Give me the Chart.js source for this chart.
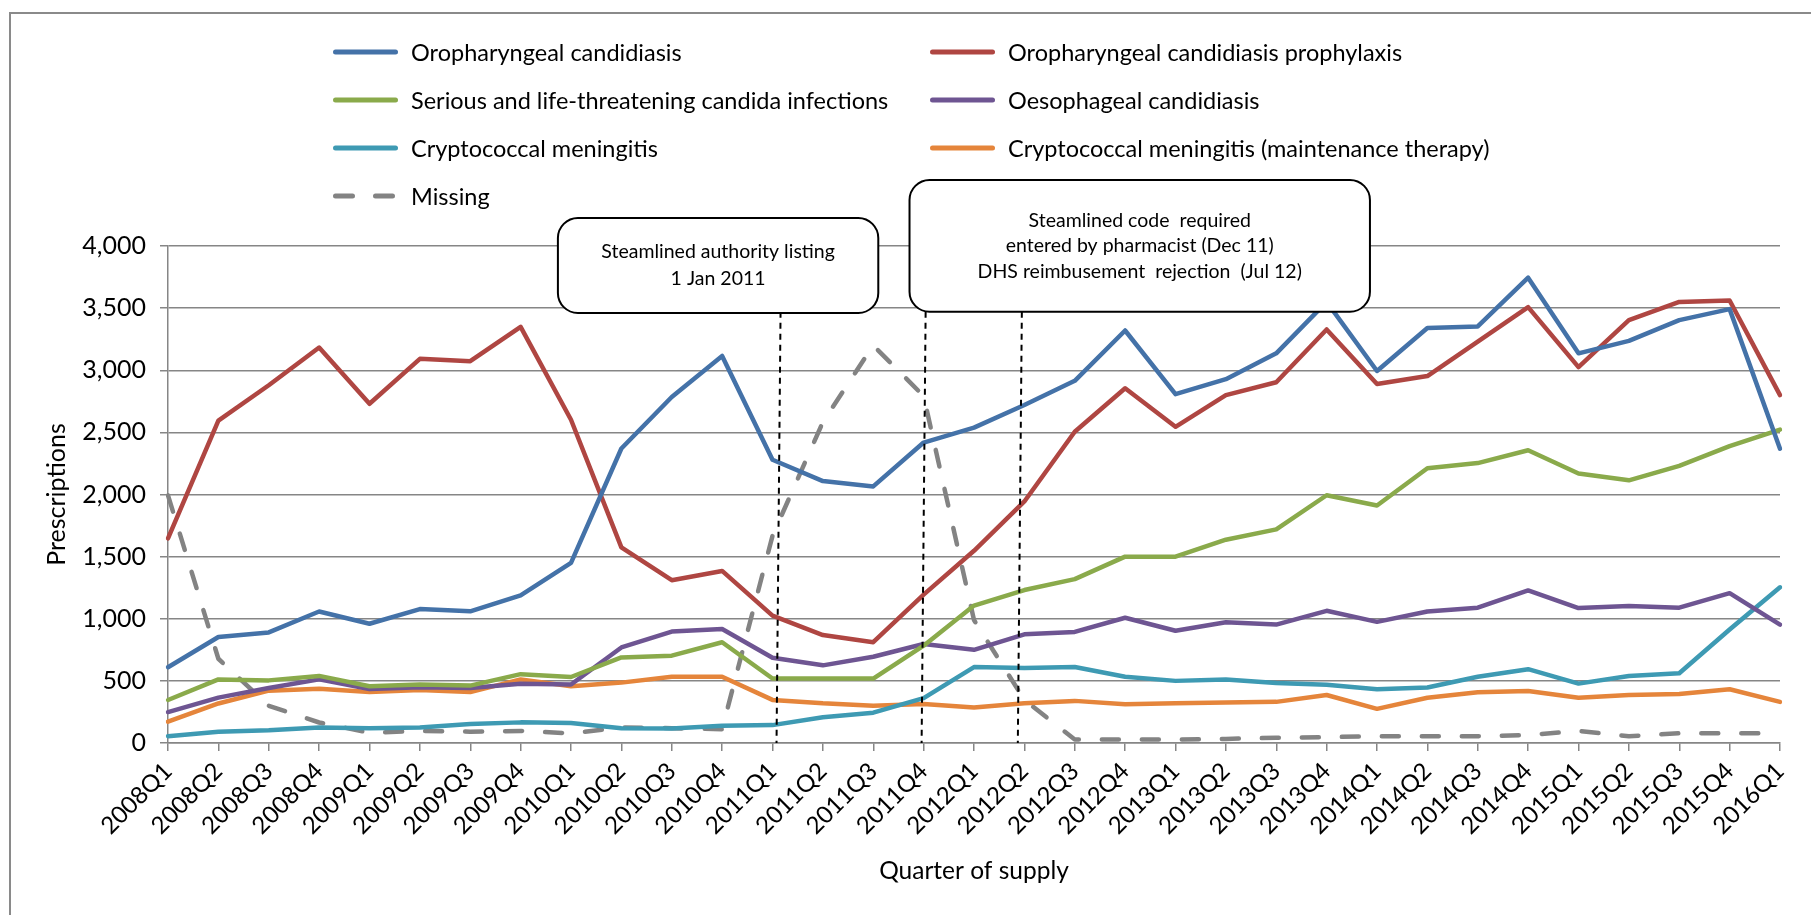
<!DOCTYPE html>
<html>
<head>
<meta charset="utf-8">
<script src="https://cdn.jsdelivr.net/npm/chart.js@4.4.1/dist/chart.umd.min.js"></script>
<style>
  body { margin: 0; background: #fff; font-family: Lato, sans-serif; }
  #wrap { position: relative; width: 1811px; height: 915px; overflow: hidden; }
  #frame { position: absolute; left: 9px; top: 12px; width: 1830px; height: 930px; border: 2px solid #8a8a8a; }
  #chart { position: absolute; left: 0; top: 0; }
  .leg { position: absolute; display: flex; align-items: center; height: 30px; font-size: 23.5px; color: #000; white-space: nowrap; }
  .leg svg { margin-right: 10px; }
</style>
</head>
<body>
<div id="wrap">
  <div id="frame"></div>
  <canvas id="chart" width="1811" height="915"></canvas>
  <div id="legend"></div>
</div>
<script>
// categorias (trimestres)
const quarters = [
    "2008Q1", "2008Q2", "2008Q3", "2008Q4", "2009Q1", "2009Q2", "2009Q3", "2009Q4",
    "2010Q1", "2010Q2", "2010Q3", "2010Q4", "2011Q1", "2011Q2", "2011Q3", "2011Q4",
    "2012Q1", "2012Q2", "2012Q3", "2012Q4", "2013Q1", "2013Q2", "2013Q3", "2013Q4",
    "2014Q1", "2014Q2", "2014Q3", "2014Q4", "2015Q1", "2015Q2", "2015Q3", "2015Q4", "2016Q1"
];

// series
const oroCandidiasis = [610, 853, 890, 1058, 960, 1078, 1060, 1188, 1450, 2370, 2785, 3115, 2280, 2108, 2065, 2418,
    2538, 2720, 2915, 3320, 2808, 2928, 3136, 3550, 2994, 3340, 3353, 3745, 3136, 3236, 3403, 3492, 2369];
const oroProphylaxis = [1647, 2594, 2879, 3183, 2730, 3092, 3073, 3349, 2602, 1575, 1310, 1385, 1025, 869, 811, 1194,
    1547, 1944, 2505, 2855, 2545, 2800, 2903, 3328, 2889, 2953, 3231, 3508, 3025, 3403, 3550, 3561, 2800];
const seriousInfections = [346, 512, 504, 540, 457, 471, 462, 554, 531, 689, 703, 811, 519, 519, 519, 783,
    1106, 1231, 1319, 1500, 1500, 1636, 1719, 1994, 1911, 2211, 2253, 2356, 2169, 2114, 2231, 2389, 2522];
const oesoCandidiasis = [249, 365, 443, 512, 435, 448, 443, 476, 471, 769, 897, 917, 686, 625, 694, 797,
    750, 875, 894, 1008, 903, 972, 953, 1064, 975, 1058, 1089, 1228, 1086, 1103, 1089, 1206, 953];
const cryptoMeningitis = [55, 91, 102, 125, 119, 125, 152, 166, 161, 119, 117, 139, 144, 208, 244, 361,
    611, 603, 611, 533, 500, 511, 483, 469, 433, 447, 533, 594, 478, 539, 561, 914, 1253];
const cryptoMaintenance = [172, 318, 421, 437, 410, 426, 410, 512, 457, 486, 533, 533, 347, 319, 300, 314,
    286, 319, 339, 311, 319, 325, 331, 386, 275, 364, 408, 419, 364, 386, 394, 433, 331];
const missing = [1993, 678, 300, 165, 83, 97, 91, 97, 78, 125, 119, 111, 1667, 2583, 3200, 2792,
    990, 347, 28, 28, 28, 33, 42, 47, 55, 55, 55, 64, 97, 55, 78, 78, 78];

const yTicks = [0, 500, 1000, 1500, 2000, 2500, 3000, 3500, 4000];

// cuadros de texto (en unidades de los ejes: indice de trimestre y prescripciones)
const notas = [
    { x0: 7.74, x1: 14.10, yTop: 4225, yBottom: 3461, lineas: ["Steamlined authority listing", "1 Jan 2011"] },
    { x0: 14.72, x1: 23.86, yTop: 4531, yBottom: 3471,
      lineas: ["Steamlined code  required", "entered by pharmacist (Dec 11)", "DHS reimbusement  rejection  (Jul 12)"] }
];
// lineas verticales punteadas
const marcas = [
    { arriba: 12.16, abajo: 12.08 },
    { arriba: 15.04, abajo: 14.96 },
    { arriba: 16.95, abajo: 16.87 }
];

const GRIS = "#868686";

const serie = (label, data, color, extra) => Object.assign({
    label, data,
    borderColor: color,
    backgroundColor: color,
    borderWidth: 4.5,
    pointRadius: 0,
    tension: 0,
    borderJoinStyle: "round",
    borderCapStyle: "round",
    fill: false
}, extra || {});

const datasets = [
    serie("Oropharyngeal candidiasis", oroCandidiasis, "#4472A8"),
    serie("Oropharyngeal candidiasis prophylaxis", oroProphylaxis, "#AF4642"),
    serie("Serious and life-threatening candida infections", seriousInfections, "#8AAA4B"),
    serie("Oesophageal candidiasis", oesoCandidiasis, "#6E5592"),
    serie("Cryptococcal meningitis", cryptoMeningitis, "#3E9AB3"),
    serie("Cryptococcal meningitis (maintenance therapy)", cryptoMaintenance, "#E5853B"),
    serie("Missing", missing, "#838383", { borderDash: [17, 23] })
];

// plugin para los cuadros de anotacion
const notasPlugin = {
    id: "notas",
    afterDatasetsDraw(chart) {
        const { ctx, scales: { x, y } } = chart;
        ctx.save();
        ctx.strokeStyle = "#000";
        ctx.lineWidth = 2;
        ctx.setLineDash([6, 5]);
        marcas.forEach(m => {
            ctx.beginPath();
            ctx.moveTo(x.getPixelForValue(m.arriba), y.getPixelForValue(3470));
            ctx.lineTo(x.getPixelForValue(m.abajo), y.getPixelForValue(0));
            ctx.stroke();
        });
        ctx.setLineDash([]);
        notas.forEach(n => {
            const l = x.getPixelForValue(n.x0), r = x.getPixelForValue(n.x1);
            const t = y.getPixelForValue(n.yTop), b = y.getPixelForValue(n.yBottom);
            ctx.beginPath();
            ctx.roundRect(l, t, r - l, b - t, 20);
            ctx.fillStyle = "#fff";
            ctx.fill();
            ctx.lineWidth = 2;
            ctx.strokeStyle = "#000";
            ctx.stroke();
            ctx.fillStyle = "#000";
            ctx.font = "19.5px Lato";
            ctx.textAlign = "center";
            ctx.textBaseline = "middle";
            const alto = n.lineas.length === 2 ? 27 : 25.5;
            const cy = (t + b) / 2;
            n.lineas.forEach((txt, i) => {
                ctx.fillText(txt, (l + r) / 2, cy + (i - (n.lineas.length - 1) / 2) * alto);
            });
        });
        ctx.restore();
    }
};

const ctx = document.getElementById("chart").getContext("2d");
const chart = new Chart(ctx, {
    type: "line",
    data: { labels: quarters, datasets },
    options: {
        responsive: false,
        animation: false,
        devicePixelRatio: 1,
        layout: { padding: { left: 38, right: 31, top: 246, bottom: 25 } },
        plugins: {
            legend: { display: false },
            tooltip: { enabled: false }
        },
        scales: {
            x: {
                offset: false,
                afterFit: s => { s.height = 147; },
                grid: { drawOnChartArea: false, drawTicks: true, tickLength: 8, color: GRIS, lineWidth: 1.5 },
                border: { color: GRIS, width: 1.5 },
                ticks: {
                    autoSkip: false, minRotation: 45, maxRotation: 45, padding: 6,
                    color: "#000", font: { family: "Lato", size: 24 }
                },
                title: { display: true, text: "Quarter of supply", color: "#000", font: { family: "Lato", size: 24.5 } }
            },
            y: {
                min: 0, max: 4000,
                afterFit: s => { s.width = 130; },
                afterBuildTicks: s => { s.ticks = yTicks.map(v => ({ value: v })); },
                grid: { color: GRIS, lineWidth: 1.5, tickLength: 8 },
                border: { color: GRIS, width: 1.5 },
                ticks: {
                    padding: 14, color: "#000", font: { family: "Lato", size: 25 },
                    callback: v => v.toLocaleString("en-US")
                },
                title: { display: true, text: "Prescriptions", color: "#000", font: { family: "Lato", size: 25 },
                         padding: { top: 4, bottom: 4 } }
            }
        }
    },
    plugins: [notasPlugin]
});

// leyenda en dos columnas
const legendBox = document.getElementById("legend");
const colX = [333, 930];
const filaY = [52, 100, 148, 196];
datasets.forEach((d, i) => {
    const div = document.createElement("div");
    div.className = "leg";
    div.style.left = (colX[i % 2] - 3) + "px";
    div.style.top = (filaY[Math.floor(i / 2)] - 15) + "px";
    const dash = d.borderDash ? `stroke-dasharray="${d.borderDash.join(" ")}"` : "";
    div.innerHTML = `<svg width="71" height="10"><line x1="5.5" y1="5" x2="65.5" y2="5" stroke="${d.borderColor}"
        stroke-width="5" stroke-linecap="round" ${dash}/></svg><span>${d.label}</span>`;
    legendBox.appendChild(div);
});
</script>
</body>
</html>
